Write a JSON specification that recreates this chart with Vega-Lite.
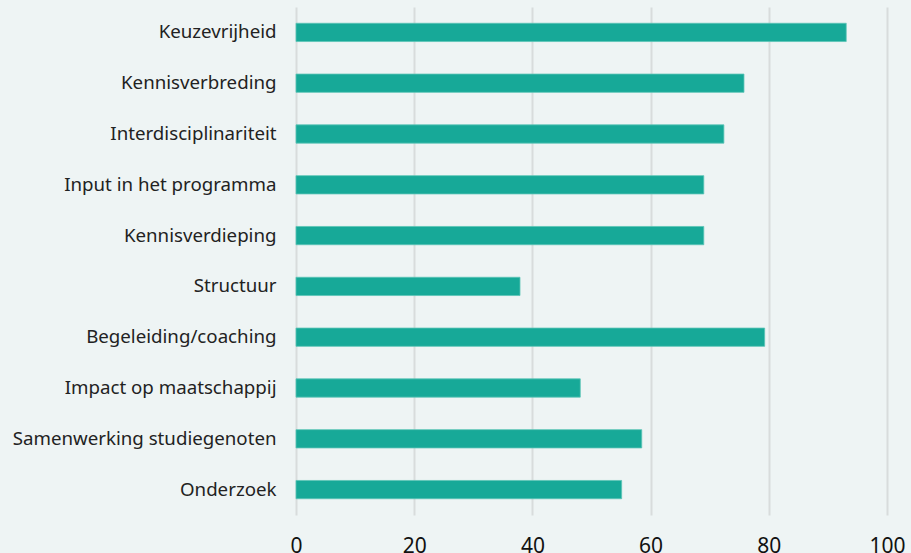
{
  "$schema": "https://vega.github.io/schema/vega-lite/v6.json",
  "width": 591,
  "height": 508,
  "autosize": {"type": "none"},
  "padding": {"left": 296, "top": 7, "right": 24, "bottom": 38},
  "background": "#eef4f4",
  "config": {"view": {"stroke": null}, "font": "Noto Sans"},
  "data": {"values": [
    {"cat": "Keuzevrijheid", "v": 93.1},
    {"cat": "Kennisverbreding", "v": 75.8},
    {"cat": "Interdisciplinariteit", "v": 72.4},
    {"cat": "Input in het programma", "v": 69.0},
    {"cat": "Kennisverdieping", "v": 69.0},
    {"cat": "Structuur", "v": 37.9},
    {"cat": "Begeleiding/coaching", "v": 79.3},
    {"cat": "Impact op maatschappij", "v": 48.1},
    {"cat": "Samenwerking studiegenoten", "v": 58.5},
    {"cat": "Onderzoek", "v": 55.1}
  ]},
  "mark": {"type": "bar", "color": "#17a998", "stroke": "#5cc4b6", "strokeWidth": 0.8},
  "encoding": {
    "y": {
      "field": "cat", "type": "nominal", "sort": null,
      "scale": {"paddingInner": 0.64, "paddingOuter": 0.32},
      "axis": {"title": null, "domain": false, "ticks": false, "labelFontSize": 18.7, "labelColor": "#222222", "labelPadding": 20, "labelLimit": 300}
    },
    "x": {
      "field": "v", "type": "quantitative",
      "scale": {"domain": [0, 100], "nice": false},
      "axis": {"title": null, "values": [0, 20, 40, 60, 80, 100], "domain": false, "ticks": false, "grid": true, "gridColor": "#d8dcdc", "gridWidth": 2, "labelFontSize": 21, "labelColor": "#111111", "labelPadding": 20, "labelFlush": false}
    }
  }
}
